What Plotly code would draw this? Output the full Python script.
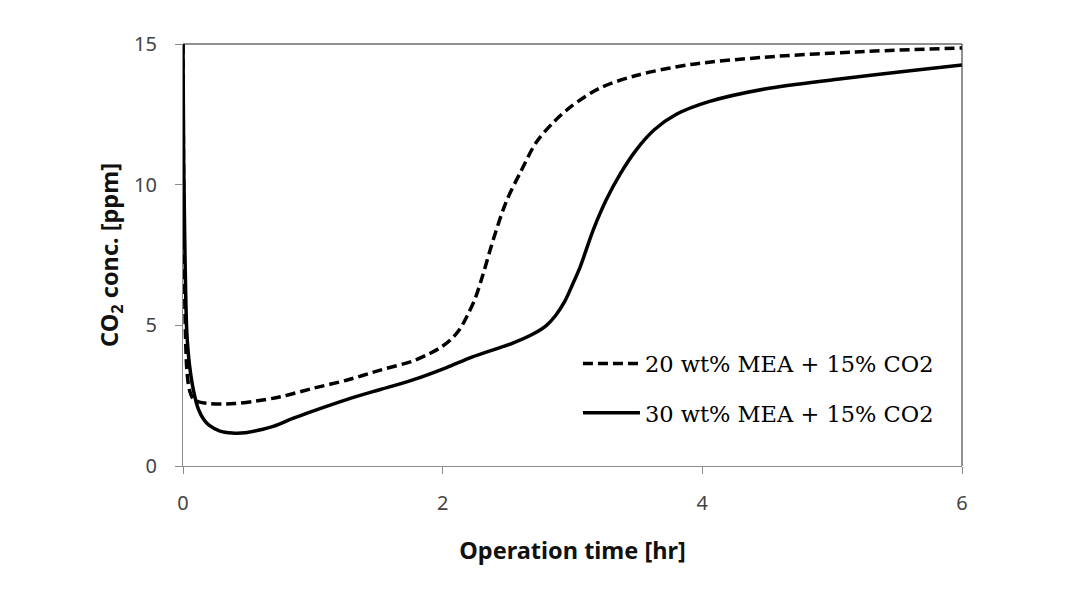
import plotly.graph_objects as go

# Series: 20 wt% MEA + 15% CO2 (dashed)
t_20 = [0, 0.005, 0.012, 0.02, 0.03, 0.045, 0.06, 0.08, 0.12, 0.2, 0.3, 0.4, 0.55, 0.75,
        1.0, 1.26, 1.52, 1.77, 1.9, 1.98, 2.06, 2.13, 2.19, 2.25, 2.31, 2.39, 2.49, 2.60,
        2.72, 2.85, 2.99, 3.21, 3.49, 3.91, 4.48, 5.18, 6.0]
y_20 = [15, 10, 6.5, 4.5, 3.4, 2.8, 2.55, 2.38, 2.28, 2.22, 2.2, 2.22, 2.3, 2.46,
        2.76, 3.05, 3.41, 3.73, 4.0, 4.2, 4.48, 4.85, 5.35, 5.95, 6.8, 8.05, 9.4, 10.45,
        11.5, 12.2, 12.78, 13.43, 13.88, 14.27, 14.53, 14.72, 14.86]

# Series: 30 wt% MEA + 15% CO2 (solid)
t_30 = [0, 0.005, 0.012, 0.02, 0.03, 0.05, 0.08, 0.12, 0.16, 0.2, 0.28, 0.38, 0.48, 0.58,
        0.7, 0.84, 1.0, 1.26, 1.52, 1.77, 2.03, 2.23, 2.54, 2.7, 2.8, 2.87, 2.94, 3.0,
        3.06, 3.16, 3.26, 3.37, 3.49, 3.63, 3.8, 4.05, 4.48, 5.04, 5.6, 6.0]
y_30 = [15, 11, 8.5, 6.3, 4.7, 3.6, 2.7, 2.0, 1.65, 1.45, 1.25, 1.17, 1.18, 1.27,
        1.42, 1.68, 1.95, 2.36, 2.72, 3.06, 3.5, 3.88, 4.37, 4.7, 5.0, 5.35, 5.85, 6.45,
        7.09, 8.39, 9.46, 10.4, 11.23, 11.95, 12.5, 12.95, 13.4, 13.75, 14.05, 14.25]

names = ["20 wt% MEA + 15% CO2", "30 wt% MEA + 15% CO2"]
x_ticks = [0, 2, 4, 6]
y_ticks = [0, 5, 10, 15]

fig = go.Figure()
fig.add_trace(go.Scatter(x=t_20, y=y_20, mode="lines", name=names[0], legendgroup="a",
                         line=dict(color="black", width=3.5, dash="10px,5px", shape="spline", smoothing=0.9)))
fig.add_trace(go.Scatter(x=t_30, y=y_30, mode="lines", name=names[1], legendgroup="b",
                         line=dict(color="black", width=3.5, shape="spline", smoothing=0.9)))

tick_font = dict(family="Noto Sans", size=20, color="#444444")
title_font = dict(family="Noto Sans", size=23.5, color="#111111")

fig.update_layout(
    width=1072, height=613,
    margin=dict(l=183, r=110, t=44, b=147, autoexpand=False),
    plot_bgcolor="white", paper_bgcolor="white",
    showlegend=True,
    legend=dict(x=0.507, y=0.293, xanchor="left", yanchor="top", itemwidth=57,
                font=dict(family="DejaVu Serif", size=22.5, color="black"),
                tracegroupgap=17, bgcolor="rgba(0,0,0,0)"),
    xaxis=dict(range=[0, 6], tickvals=x_ticks, showgrid=False, zeroline=False,
               showline=True, linecolor="#8a8a8a", linewidth=1,
               ticks="outside", ticklen=7, tickcolor="#8a8a8a",
               tickfont=tick_font, ticklabelstandoff=12,
               title=dict(text="<b>Operation time [hr]</b>", font=title_font, standoff=27)),
    yaxis=dict(range=[0, 15], tickvals=y_ticks, showgrid=False, zeroline=False,
               showline=True, linecolor="#8a8a8a", linewidth=1,
               ticks="outside", ticklen=7, tickcolor="#8a8a8a",
               tickfont=tick_font, ticklabelstandoff=14,
               title=dict(text="<b>CO<sub>2</sub> conc. [ppm]</b>", font=title_font, standoff=8)),
    shapes=[
        dict(type="line", xref="paper", yref="paper", x0=0, x1=1, y0=1, y1=1,
             line=dict(color="#222222", width=1)),
        dict(type="line", xref="paper", yref="paper", x0=1, x1=1, y0=0, y1=1,
             line=dict(color="#222222", width=1)),
    ],
)

fig.write_html("out.html")
